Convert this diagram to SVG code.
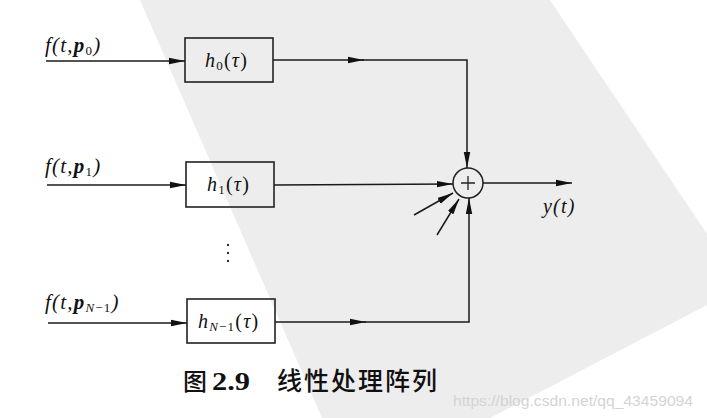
<svg xmlns="http://www.w3.org/2000/svg" width="707" height="418" viewBox="0 0 707 418">
<defs>
<marker id="ah" markerWidth="16" markerHeight="8" refX="16" refY="4" orient="auto" markerUnits="userSpaceOnUse">
<path d="M0,0.8 L16,4 L0,7.2 Z" fill="#111"/>
</marker>
<style>
.ln{stroke:#1a1a1a;stroke-width:1.5;fill:none}
.box{fill:none;stroke:#222;stroke-width:1.6}
.it{font-family:"Liberation Serif",serif;font-style:italic;fill:#111;letter-spacing:1.2px}
.bi{font-weight:bold}
.up{font-style:normal}
.cap{font-family:"Noto Sans CJK SC","Liberation Serif",serif;fill:#111}
</style>
</defs>
<rect width="707" height="418" fill="#ffffff"/>
<polygon points="140,0 550,0 707,234 707,305 490,418 322,418" fill="#ededed"/>

<g id="label-in0"><text class="it" x="45" y="52" font-size="21">f(t,<tspan class="bi">p</tspan><tspan class="up" font-size="13" dy="3">0</tspan><tspan dy="-3">)</tspan></text></g>
<g id="label-in1"><text class="it" x="45" y="173" font-size="21">f(t,<tspan class="bi">p</tspan><tspan class="up" font-size="13" dy="3">1</tspan><tspan dy="-3">)</tspan></text></g>
<g id="label-inN"><text class="it" x="45" y="309" font-size="21">f(t,<tspan class="bi">p</tspan><tspan font-size="13" dy="3">N</tspan><tspan class="up" font-size="13">−1</tspan><tspan dy="-3">)</tspan></text></g>

<g id="h0"><rect class="box" x="185" y="38" width="88" height="44"/><text class="it" x="205" y="67" font-size="20">h<tspan class="up" font-size="13" dy="3">0</tspan><tspan class="up" dy="-3">(</tspan>τ<tspan class="up">)</tspan></text></g>
<g id="h1"><rect class="box" x="186" y="162" width="88" height="45"/><text class="it" x="207" y="191" font-size="20">h<tspan class="up" font-size="13" dy="3">1</tspan><tspan class="up" dy="-3">(</tspan>τ<tspan class="up">)</tspan></text></g>
<g id="hN"><rect class="box" x="187" y="299" width="88" height="44"/><text class="it" x="198" y="328" font-size="20">h<tspan font-size="13" dy="3">N</tspan><tspan class="up" font-size="13">−1</tspan><tspan class="up" dy="-3">(</tspan>τ<tspan class="up">)</tspan></text></g>

<g id="sum"><circle cx="468" cy="183" r="15" fill="none" stroke="#222" stroke-width="1.5"/><path d="M468,176 V190 M461,183 H475" stroke="#222" stroke-width="1.3"/></g>

<g id="dots" fill="#333"><circle cx="228" cy="245" r="1.2"/><circle cx="228" cy="253" r="1.2"/><circle cx="228" cy="261" r="1.2"/></g>

<g id="connectors">
<line class="ln" x1="46" y1="61" x2="185" y2="61" marker-end="url(#ah)"/>
<line class="ln" x1="47" y1="185" x2="186" y2="185" marker-end="url(#ah)"/>
<line class="ln" x1="48" y1="323" x2="187" y2="323" marker-end="url(#ah)"/>
<line class="ln" x1="273" y1="60" x2="364" y2="60" marker-end="url(#ah)"/>
<polyline class="ln" points="362,60 467,60 467,168" marker-end="url(#ah)"/>
<line class="ln" x1="274" y1="185" x2="453" y2="184" marker-end="url(#ah)"/>
<line class="ln" x1="275" y1="322" x2="366" y2="322" marker-end="url(#ah)"/>
<polyline class="ln" points="364,322 469,322 469,198" marker-end="url(#ah)"/>
<line class="ln" x1="483" y1="183" x2="572" y2="183" marker-end="url(#ah)"/>
<line class="ln" x1="414" y1="215" x2="453" y2="193" marker-end="url(#ah)"/>
<line class="ln" x1="437" y1="235" x2="459" y2="199" marker-end="url(#ah)"/>
</g>

<g id="label-out"><text class="it" x="543" y="213" font-size="20">y(t)</text></g>

<g id="caption">
<text class="cap" x="183" y="390" font-size="24" font-weight="500">图</text>
<text x="212" y="390" font-size="25" font-family="Liberation Serif,serif" font-weight="bold" fill="#111" textLength="38" lengthAdjust="spacingAndGlyphs">2.9</text>
<text class="cap" x="277" y="390" font-size="25" font-weight="500" textLength="160" lengthAdjust="spacing">线性处理阵列</text>
</g>
<text x="453" y="406" font-size="15.5" font-family="Liberation Sans,Arial,sans-serif" fill="#d4d4d4" textLength="240" lengthAdjust="spacingAndGlyphs">https://blog.csdn.net/qq_43459094</text>
</svg>
